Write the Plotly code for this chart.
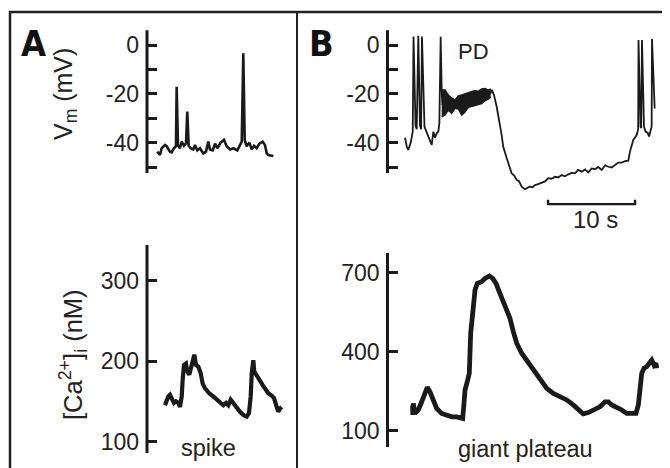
import plotly.graph_objects as go

# page body has an 8 px margin, so the figure is drawn 8 px in from the window corner
OFF = 8
W, H = 670 - OFF, 468 - OFF

# ---------------- data ----------------
# Panel A, membrane potential (time s, mV)
A_VM_T = [0.03, 0.34, 0.54, 0.92, 1.11, 1.49, 1.69, 1.95, 2.18, 2.26, 2.41, 2.64, 2.84, 3.10, 3.33,
          3.48, 3.64, 3.87, 4.17, 4.37, 4.63, 4.94, 5.32, 5.63, 5.90, 6.09, 6.40, 6.67, 6.93, 7.32,
          7.70, 8.01, 8.39, 8.77, 9.23, 9.54, 9.74, 9.92, 10.08, 10.31, 10.61, 10.89, 11.15, 11.46,
          11.76, 12.15, 12.41, 12.61, 12.79, 13.37]
A_VM = [-43.7, -45.1, -42.3, -41.0, -41.5, -43.7, -44.0, -42.3, -41.5, -17.1, -41.0, -42.3, -39.6,
        -41.3, -40.4, -27.3, -41.3, -42.3, -42.8, -41.0, -43.2, -42.3, -44.4, -43.7, -39.6, -42.8,
        -43.2, -40.4, -42.3, -40.0, -38.9, -41.5, -42.8, -42.3, -43.2, -41.0, -39.6, -3.4, -38.9,
        -41.5, -40.0, -42.8, -41.3, -42.3, -40.4, -39.6, -41.0, -44.4, -45.1, -45.5]

# Panel A, [Ca2+]i (time s, nM)
A_CA_T = [0.92, 1.11, 1.30, 1.49, 1.69, 1.95, 2.18, 2.45, 2.64, 2.84, 2.95, 3.10, 3.33, 3.48, 3.71,
          3.87, 4.10, 4.29, 4.48, 4.75, 5.02, 5.25, 5.52, 5.78, 6.09, 6.47, 6.86, 7.24, 7.62, 7.93,
          8.20, 8.47, 8.77, 9.16, 9.54, 9.92, 10.31, 10.57, 10.77, 10.89, 11.07, 11.18, 11.46, 11.76,
          12.15, 12.41, 12.79, 13.18, 13.45, 13.76, 13.94, 14.14, 14.33]
A_CA = [145, 152, 156, 158, 152, 148, 150, 148, 143, 156, 177, 195, 197, 187, 183, 191, 201, 208,
        195, 193, 185, 172, 166, 162, 159, 156, 152, 148, 145, 148, 145, 152, 148, 141, 137, 133,
        131, 135, 156, 185, 201, 187, 183, 177, 170, 166, 160, 157, 154, 143, 137, 141, 143]

# Panel B, membrane potential (time s, mV)
B_VM_T = [0.00, 0.20, 0.38, 0.66, 0.89,
          0.98, 1.21, 1.35, 1.53, 1.72, 1.85, 1.95, 2.24,
          2.49, 2.87, 3.07, 3.26, 3.45, 3.64, 3.83, 3.95, 4.10, 4.22,
          4.30, 4.60, 4.98, 5.37, 5.75, 6.13, 6.52, 6.90, 7.28, 7.66, 8.05, 8.43, 8.81, 9.20, 9.58,
          9.85, 9.97, 10.23, 10.54, 10.84, 11.11, 11.29, 11.49, 11.76, 12.07, 12.26, 12.55, 12.84,
          13.10, 13.41, 13.79, 14.10, 14.37, 14.65, 14.94, 15.30, 15.71, 16.10, 16.47, 16.85, 17.24,
          17.60, 18.01, 18.40, 18.77, 19.15, 19.54, 19.90, 20.31, 20.70, 21.07, 21.45, 21.84, 22.20,
          22.61, 23.00, 23.37, 23.75, 24.14, 24.50, 24.91, 25.30, 25.67, 25.86, 26.24, 26.63, 26.80,
          26.84, 27.07, 27.15, 27.24, 27.47, 27.65, 27.90, 28.05, 28.20, 28.35, 28.39, 28.60, 28.66,
          28.70]
B_VM = [-38.0, -41.7, -43.0, -40.0, -35.5,
        3.5, -33.0, -34.5, 3.8, -33.0, -34.5, 3.5, -33.5,
        -35.5, -38.9, -40.9, -35.5, -38.0, -36.2, -35.5, -32.0, 3.4, -19.1,
        -24.0, -23.5, -23.5, -25.0, -24.2, -23.5, -24.6, -23.7, -22.6, -22.0, -21.7,
        -21.7, -21.0, -20.3, -20.3, -19.6, -18.4, -20.5, -25.3, -30.7, -36.9, -41.7, -44.4, -47.1,
        -50.5, -52.6, -53.5, -55.3, -55.8, -58.1, -59.1, -58.4, -58.0, -58.3, -57.4, -57.0, -56.4,
        -55.9, -54.6, -54.8, -54.0, -54.3, -53.3, -53.8, -53.0, -52.4, -52.6, -51.2, -51.9, -51.0,
        -52.2, -50.6, -50.9, -50.0, -51.2, -49.3, -49.9, -50.2, -49.2, -48.2, -48.2, -47.6, -47.4,
        -43.7, -38.9, -36.9, -34.5,
        2.0, -33.5, -34.0, 2.0, -33.5, -35.5, -36.0, -37.5, -35.0, -33.5, 2.5, -20.0, -17.6,
        -26.0]

# Panel B, noisy plateau envelope (time s, upper / lower mV)
BAND_T = [4.22, 4.60, 4.98, 5.37, 5.75, 6.13, 6.52, 6.90, 7.28, 7.66, 8.05, 8.43, 8.81, 9.20, 9.58, 9.85]
BAND_HI = [-18.4, -18.4, -20.5, -21.8, -22.5, -20.9, -20.5, -20.0, -19.8, -19.1, -18.7, -19.0, -18.0,
           -17.8, -18.5, -18.0]
BAND_LO = [-29.4, -28.7, -26.6, -28.0, -25.9, -26.2, -28.7, -27.5, -25.5, -25.0, -24.8, -24.4, -24.0,
           -22.8, -22.2, -21.2]

# Panel B, [Ca2+]i (time s, nM)
B_CA_T = [0.87, 0.90, 0.95, 1.15, 1.53, 1.92, 2.30, 2.56, 2.87, 3.25, 3.64, 4.22, 4.79, 5.37, 5.94,
          6.32, 6.63, 6.78, 6.90, 7.16, 7.39, 7.55, 7.78, 8.05, 8.31, 8.82, 9.20, 9.69, 10.08, 10.46,
          10.84, 11.23, 11.69, 12.07, 12.45, 12.84, 13.41, 13.99, 14.56, 15.14, 15.71, 16.29, 17.05,
          17.82, 18.59, 19.34, 19.92, 20.49, 21.07, 21.64, 22.41, 22.99, 23.37, 23.76, 24.33, 24.91,
          25.49, 26.06, 26.55, 26.82, 27.01, 27.21, 27.47, 27.78, 28.08, 28.36, 28.62, 28.85, 28.93]
B_CA = [195, 160, 204, 166, 179, 210, 248, 265, 248, 210, 185, 166, 160, 153, 153, 147, 147, 204, 255,
        286, 318, 470, 545, 634, 659, 665, 678, 687, 678, 659, 627, 596, 564, 526, 476, 432, 394, 368,
        337, 312, 286, 261, 242, 229, 217, 198, 179, 164, 169, 179, 191, 210, 210, 198, 191, 179, 166,
        166, 166, 198, 255, 318, 337, 343, 356, 368, 349, 356, 337]

VM_TICKS = [0, -10, -20, -30, -40, -50]
VM_LABELS = ["0", "", "-20", "", "-40", ""]
CA_A_TICKS = [100, 200, 300]
CA_B_TICKS = [100, 400, 700]
SCALE_BAR_START = 16.44   # s
SCALE_BAR_LEN = 10        # s
SCALE_BAR_LEVEL = -65.2   # mV

# ---------------- figure ----------------
FONT = "Liberation Sans, Arial, Helvetica, sans-serif"
NARROW = "Liberation Sans Narrow, DejaVu Sans Condensed, Arial Narrow, sans-serif"
INK = "#1a1a1a"


def px(x):
    """window pixel x -> paper fraction"""
    return (x - OFF) / W


def py(y):
    """window pixel y -> paper fraction"""
    return 1 - (y - OFF) / H


fig = go.Figure()

fig.add_trace(go.Scatter(x=A_VM_T, y=A_VM, mode="lines", line=dict(color=INK, width=2.6),
                         xaxis="x", yaxis="y"))
fig.add_trace(go.Scatter(x=BAND_T, y=BAND_LO, mode="lines", line=dict(color=INK, width=1.5),
                         xaxis="x2", yaxis="y2"))
fig.add_trace(go.Scatter(x=BAND_T, y=BAND_HI, mode="lines", line=dict(color=INK, width=1.5),
                         fill="tonexty", fillcolor=INK, xaxis="x2", yaxis="y2"))
fig.add_trace(go.Scatter(x=B_VM_T, y=B_VM, mode="lines", line=dict(color=INK, width=1.8),
                         xaxis="x2", yaxis="y2"))
fig.add_trace(go.Scatter(x=A_CA_T, y=A_CA, mode="lines", line=dict(color=INK, width=4.2),
                         xaxis="x3", yaxis="y3"))
fig.add_trace(go.Scatter(x=B_CA_T, y=B_CA, mode="lines", line=dict(color=INK, width=4.8),
                         xaxis="x4", yaxis="y4"))
# scale bar
sb0, sb1 = SCALE_BAR_START, SCALE_BAR_START + SCALE_BAR_LEN
fig.add_trace(go.Scatter(x=[sb0, sb0, sb1, sb1],
                         y=[SCALE_BAR_LEVEL + 1.8, SCALE_BAR_LEVEL, SCALE_BAR_LEVEL, SCALE_BAR_LEVEL + 1.8],
                         mode="lines", line=dict(color=INK, width=2.4), xaxis="x2", yaxis="y2"))

# time axes (hidden): A axis at px 147, B axis at px 387.5 ; 8.7 px per second
xA_dom = [px(147), px(292)]
xB_dom = [px(387.5), 1.0]
xA_rng = [(147 - 157) / 8.7, (292 - 157) / 8.7]
xB_rng = [(387.5 - 405) / 8.7, (670 - 405) / 8.7]

hidden = dict(visible=False, showgrid=False, zeroline=False)
fig.update_layout(
    xaxis=dict(domain=xA_dom, range=xA_rng, anchor="y", **hidden),
    xaxis2=dict(domain=xB_dom, range=xB_rng, anchor="y2", **hidden),
    xaxis3=dict(domain=xA_dom, range=xA_rng, anchor="y3", **hidden),
    xaxis4=dict(domain=xB_dom, range=xB_rng, anchor="y4", **hidden),
)


def yax(anchor, dom, rng, tickvals, ticktext):
    return dict(anchor=anchor, domain=dom, range=rng, showline=False, showgrid=False, zeroline=False,
                ticks="inside", ticklen=10, tickwidth=2.6, tickcolor=INK,
                tickvals=tickvals, ticktext=ticktext, ticklabelstandoff=7,
                tickfont=dict(family=FONT, size=23, color="#222"))


# top: 2.44 px per mV, 0 mV at y=45 px
top_rng = [-70, 7]
top_dom = [py(45 + 70 * 2.44), py(45 - 7 * 2.44)]
# bottom A: y = 361.1 - 0.8035*(v-200)
ca_a_rng = [80, 350]
ca_a_dom = [py(361.1 - 0.8035 * (80 - 200)), py(361.1 - 0.8035 * (350 - 200))]
# bottom B: y = 351.67 - 0.2638*(v-400)
ca_b_rng = [30, 790]
ca_b_dom = [py(351.67 - 0.2638 * (30 - 400)), py(351.67 - 0.2638 * (790 - 400))]

fig.update_layout(
    yaxis=yax("x", top_dom, top_rng, VM_TICKS, VM_LABELS),
    yaxis2=yax("x2", top_dom, top_rng, VM_TICKS, VM_LABELS),
    yaxis3=yax("x3", ca_a_dom, ca_a_rng, CA_A_TICKS, [str(v) for v in CA_A_TICKS]),
    yaxis4=yax("x4", ca_b_dom, ca_b_rng, CA_B_TICKS, [str(v) for v in CA_B_TICKS]),
)

shapes = []
# visible axis lines (shorter than the plotting range)
for xr, yr, lo, hi in [("x", "y", -52.5, 6), ("x2", "y2", -52.5, 6),
                       ("x3", "y3", 85.6, 344.5), ("x4", "y4", 38.6, 774)]:
    shapes.append(dict(type="line", xref=xr + " domain", yref=yr, x0=0, x1=0, y0=lo, y1=hi,
                       line=dict(color=INK, width=3)))
# frame
frame = dict(color="#222", width=2.5)
shapes.append(dict(type="line", xref="paper", yref="paper", x0=px(10), x1=px(10), y0=py(11), y1=0,
                   line=frame))
shapes.append(dict(type="line", xref="paper", yref="paper", x0=px(9), x1=1, y0=py(12), y1=py(12),
                   line=frame))
shapes.append(dict(type="line", xref="paper", yref="paper", x0=px(297), x1=px(297), y0=py(12), y1=0,
                   line=dict(color="#222", width=2)))


def ann(text, x, y, size, angle=0, family=FONT, color="#222"):
    return dict(text=text, x=px(x), y=py(y), xref="paper", yref="paper", showarrow=False,
                xanchor="center", yanchor="middle", textangle=angle,
                font=dict(family=family, size=size, color=color))


annotations = [
    ann("<b>A</b>", 33.5, 43, 36, family=NARROW, color="#111"),
    ann("<b>B</b>", 321.5, 43, 36, family=NARROW, color="#111"),
    ann("V<sub>m</sub> (mV)", 65, 94, 25),
    ann("[Ca<sup>2+</sup>]<sub>i</sub> (nM)", 73, 355, 25.5),
    ann("PD", 473, 51, 22),
    ann("10 s", 595, 219, 24),
    ann("spike", 208, 448, 23.5),
    ann("giant plateau", 525, 449, 23.5),
]
annotations[2]["textangle"] = -90
annotations[3]["textangle"] = -90

fig.update_layout(width=W, height=H, margin=dict(l=0, r=0, t=0, b=0),
                  paper_bgcolor="white", plot_bgcolor="rgba(0,0,0,0)", showlegend=False,
                  shapes=shapes, annotations=annotations)

fig.write_html("out.html")
